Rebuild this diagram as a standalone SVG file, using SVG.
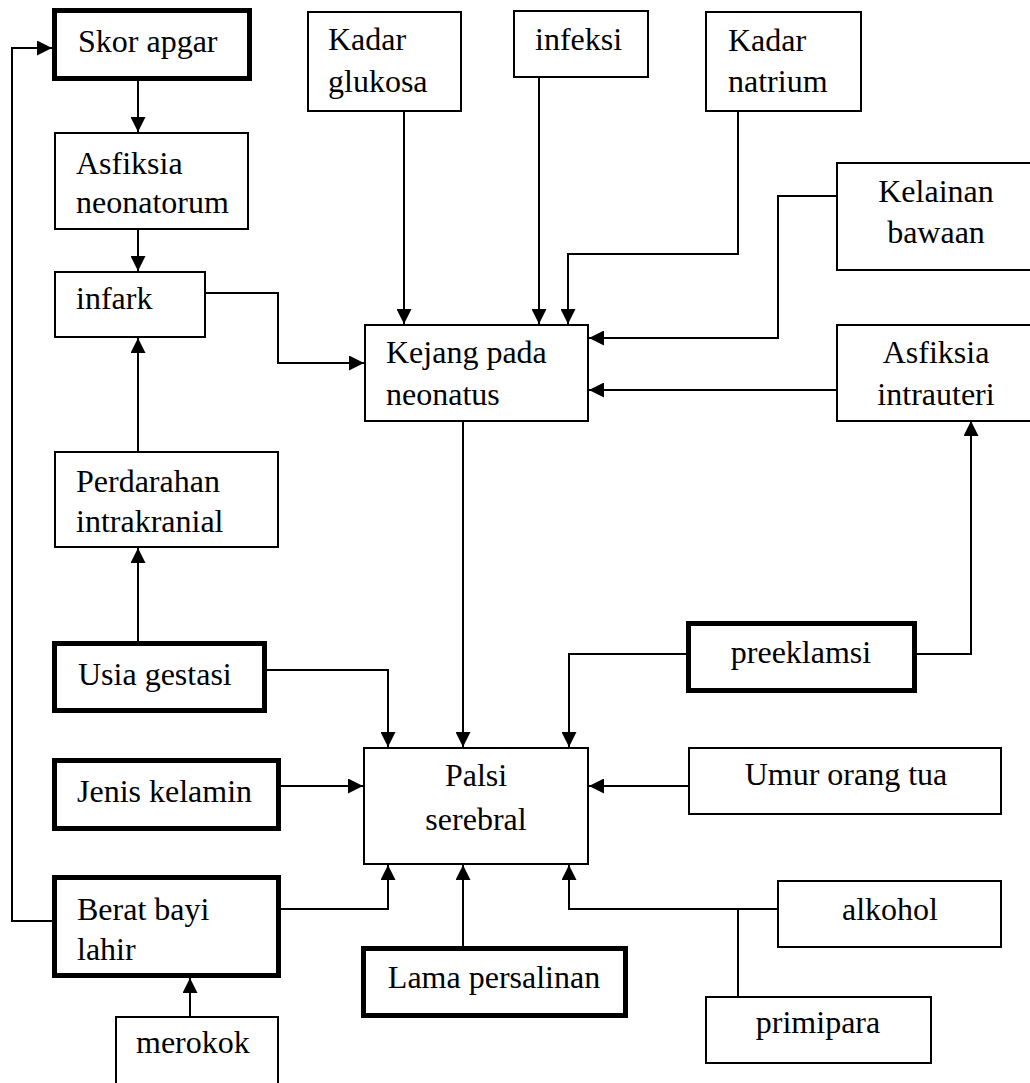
<svg xmlns="http://www.w3.org/2000/svg" width="1030" height="1083" viewBox="0 0 1030 1083">
<style>
.box{fill:#fff;stroke:#000;stroke-width:2}
.thick{fill:#fff;stroke:#000;stroke-width:5}
.t{font-family:"Liberation Serif","Times New Roman",serif;font-size:32px;fill:#000}
.c{text-anchor:middle}
.e{fill:none;stroke:#000;stroke-width:2}
.a{marker-end:url(#ah)}
</style>
<defs>
<marker id="ah" markerUnits="userSpaceOnUse" markerWidth="15" markerHeight="15" refX="15" refY="7.5" orient="auto">
<path d="M0,0 L15,7.5 L0,15 z" fill="#000"/>
</marker>
</defs>
<rect width="1030" height="1083" fill="#fff"/>
<g id="connectors">
<path class="e a" d="M138,81 V132"/>
<path class="e a" d="M138,230 V271"/>
<path class="e a" d="M138,451 V338"/>
<path class="e a" d="M138,641 V548"/>
<path class="e a" d="M190,1016 V978"/>
<path class="e a" d="M52,921 H12 V48 H52"/>
<path class="e a" d="M206,293 H278 V363 H364"/>
<path class="e a" d="M404,112 V324"/>
<path class="e a" d="M539,78 V324"/>
<path class="e a" d="M738,112 V254 H568 V324"/>
<path class="e a" d="M836,196 H778 V338 H589"/>
<path class="e a" d="M836,390 H589"/>
<path class="e a" d="M463,422 V747"/>
<path class="e a" d="M267,670 H388 V747"/>
<path class="e a" d="M686,654 H569 V747"/>
<path class="e a" d="M917,654 H971 V421"/>
<path class="e a" d="M281,786 H363"/>
<path class="e a" d="M688,786 H589"/>
<path class="e a" d="M281,909 H388 V865"/>
<path class="e a" d="M463,946 V865"/>
<path class="e a" d="M777,909 H569 V865"/>
<path class="e" d="M738,996 V909"/>
</g>
<g id="skor-apgar"><rect class="thick" x="54.5" y="10.5" width="195" height="68"/><text class="t" x="78" y="52">Skor apgar</text></g>
<g id="asfiksia-neonatorum"><rect class="box" x="55" y="133" width="193" height="96"/><text class="t" x="76" y="174">Asfiksia</text><text class="t" x="76" y="213">neonatorum</text></g>
<g id="infark"><rect class="box" x="55" y="272" width="150" height="65"/><text class="t" x="76" y="309">infark</text></g>
<g id="perdarahan"><rect class="box" x="55" y="452" width="223" height="95"/><text class="t" x="76" y="492">Perdarahan</text><text class="t" x="76" y="532">intrakranial</text></g>
<g id="usia-gestasi"><rect class="thick" x="54.5" y="643.5" width="210" height="67"/><text class="t" x="78" y="685">Usia gestasi</text></g>
<g id="jenis-kelamin"><rect class="thick" x="54.5" y="760.5" width="224" height="68"/><text class="t" x="77" y="802">Jenis kelamin</text></g>
<g id="berat-bayi"><rect class="thick" x="54.5" y="877.5" width="224" height="98"/><text class="t" x="77" y="920">Berat bayi</text><text class="t" x="77" y="960">lahir</text></g>
<g id="merokok"><rect class="box" x="116" y="1017" width="162" height="80"/><text class="t" x="136" y="1053">merokok</text></g>
<g id="kadar-glukosa"><rect class="box" x="308" y="12" width="153" height="99"/><text class="t" x="328" y="50">Kadar</text><text class="t" x="328" y="92">glukosa</text></g>
<g id="infeksi"><rect class="box" x="514" y="11" width="134" height="66"/><text class="t" x="535" y="50">infeksi</text></g>
<g id="kadar-natrium"><rect class="box" x="706" y="12" width="155" height="99"/><text class="t" x="728" y="51">Kadar</text><text class="t" x="728" y="92">natrium</text></g>
<g id="kelainan-bawaan"><rect class="box" x="837" y="163" width="200" height="107"/><text class="t c" x="936" y="202">Kelainan</text><text class="t c" x="936" y="243">bawaan</text></g>
<g id="asfiksia-intrauteri"><rect class="box" x="837" y="325" width="200" height="96"/><text class="t c" x="936" y="363">Asfiksia</text><text class="t c" x="936" y="405">intrauteri</text></g>
<g id="kejang"><rect class="box" x="365" y="325" width="223" height="96"/><text class="t" x="386" y="363">Kejang pada</text><text class="t" x="386" y="405">neonatus</text></g>
<g id="palsi-serebral"><rect class="box" x="364" y="748" width="224" height="116"/><text class="t c" x="476" y="786">Palsi</text><text class="t c" x="476" y="830">serebral</text></g>
<g id="preeklamsi"><rect class="thick" x="688.5" y="623.5" width="226" height="67"/><text class="t c" x="801" y="663">preeklamsi</text></g>
<g id="umur-orang-tua"><rect class="box" x="689" y="748" width="312" height="66"/><text class="t c" x="846" y="785">Umur orang tua</text></g>
<g id="alkohol"><rect class="box" x="778" y="881" width="223" height="66"/><text class="t c" x="890" y="920">alkohol</text></g>
<g id="primipara"><rect class="box" x="706" y="997" width="225" height="66"/><text class="t c" x="818" y="1033">primipara</text></g>
<g id="lama-persalinan"><rect class="thick" x="363.5" y="948.5" width="262" height="67"/><text class="t c" x="494" y="988">Lama persalinan</text></g>
</svg>
